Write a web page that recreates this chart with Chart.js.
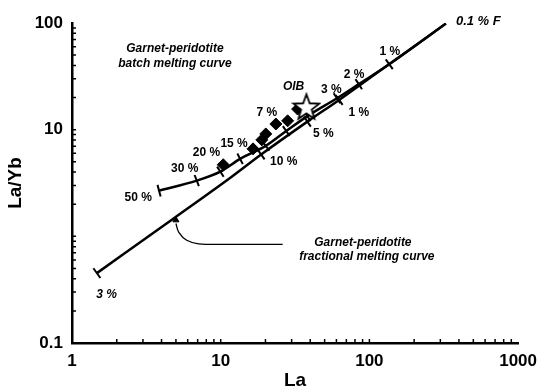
<!DOCTYPE html>
<html>
<head>
<meta charset="utf-8">
<script src="https://cdn.jsdelivr.net/npm/chart.js@4/dist/chart.umd.min.js"></script>
<style>
  body { margin: 0; background: #fff; }
  #wrap { width: 545px; height: 392px; }
</style>
</head>
<body>
<div id="wrap"><canvas id="meltChart" width="545" height="392"></canvas></div>
<script>
/************ DATA ************/
// garnet-peridotite batch melting curve, one point per F step (50 % ... 0.1 %)
const batchLa   = [3.85, 6.9, 9.95, 13.5, 20.1, 27.6, 38.3, 60.5, 84.8, 136, 327];
const batchLaYb = [2.68, 3.33, 4.04, 5.33, 7.05, 9.72, 13.4, 19.7, 26.7, 41, 98.7];

// garnet-peridotite fractional melting curve
const fracLa   = [1.47, 4.85, 11.8, 18.7, 38.3, 62.6, 137, 327];
const fracLaYb = [0.452, 1.48, 3.6, 5.85, 11.9, 19.0, 41.5, 98.7];

// F marks on the fractional curve (10 %, 5 %, 1 %)
const fracTickLa   = [18.7, 38.3, 62.6];
const fracTickLaYb = [5.85, 11.9, 19.0];

// samples
const sampleLa   = [10.4, 16.5, 18.9, 20.1, 23.5, 28.2, 32.9];
const sampleLaYb = [4.69, 6.61, 8.02, 9.12, 11.3, 12.1, 15.6];

// average OIB
const oibLa = [37.7];
const oibLaYb = [16.3];

// leader from the fractional-curve caption to the curve
const arrowLa   = [5.0, 5.23, 5.91, 7.11, 11.25, 26.1];
const arrowLaYb = [1.32, 1.09, 0.918, 0.851, 0.842, 0.842];

// text labels [text, La, La/Yb]
const pctLabels = [
  ["50 %", 2.79, 2.31], ["30 %", 5.73, 4.3], ["20 %", 8.03, 6.07],
  ["15 %", 12.3, 7.36], ["7 %", 20.4, 14.3], ["3 %", 55.4, 23.9],
  ["2 %", 78.8, 33.0], ["1 %", 137, 54.1], ["10 %", 26.5, 5.0],
  ["5 %", 49.0, 9.12], ["1 %", 85.0, 14.3],
];
const italicLabels = [
  ["OIB", 30.9, 25.5], ["3 %", 1.71, 0.282],
  ["Garnet-peridotite", 4.92, 57.7], ["batch melting curve", 4.92, 41.8],
  ["Garnet-peridotite", 90.4, 0.879], ["fractional melting curve", 96.1, 0.651],
];
const endLabel = ["0.1 % F", 540, 103];

/************ HELPERS ************/
const FAMILY = '"Liberation Sans", Arial, sans-serif';
const pts = (xs, ys) => xs.map((x, i) => ({ x: x, y: ys[i] }));

// rotation (deg) that puts a "line" point across the curve
function perpRotation(curveX, curveY) {
  return (c) => {
    const v = c.raw;
    if (!v) return 0;
    const sx = c.chart.scales.x, sy = c.chart.scales.y;
    let i = 0;
    while (i < curveX.length - 2 && curveX[i + 1] <= v.x) i++;
    const dx = sx.getPixelForValue(curveX[i + 1]) - sx.getPixelForValue(curveX[i]);
    const dy = sy.getPixelForValue(curveY[i + 1]) - sy.getPixelForValue(curveY[i]);
    return (Math.atan2(dy, dx) * 180) / Math.PI + 90;
  };
}

// open five-point star for OIB
function makeStar() {
  const c = document.createElement("canvas");
  c.width = 30; c.height = 30;
  const g = c.getContext("2d");
  g.beginPath();
  for (let i = 0; i < 10; i++) {
    const r = i % 2 === 0 ? 13.5 : 5.6;
    const a = -Math.PI / 2 + (i * Math.PI) / 5;
    const px = 15 + r * Math.cos(a), py = 15.8 + r * Math.sin(a);
    i === 0 ? g.moveTo(px, py) : g.lineTo(px, py);
  }
  g.closePath();
  g.fillStyle = "#fff";
  g.fill();
  g.lineWidth = 1.8;
  g.strokeStyle = "#000";
  g.stroke();
  return c;
}

const powerLabel = (skipOne) => (v) => {
  const l = Math.log10(v);
  if (Math.abs(l - Math.round(l)) > 1e-9) return "";
  if (skipOne && Math.round(l) === 0) return "";
  return String(v);
};

/************ OVERLAY: inward axis ticks + text ************/
const overlay = {
  id: "overlay",
  afterDraw(chart) {
    const { ctx, chartArea: a, scales: { x, y } } = chart;
    ctx.save();
    ctx.strokeStyle = "#000";
    ctx.lineWidth = 1.5;
    ctx.beginPath();
    for (let e = 0; e < 3; e++) {
      for (let k = 1; k < 10; k++) {
        const px = x.getPixelForValue(k * Math.pow(10, e));
        ctx.moveTo(px, a.bottom);
        ctx.lineTo(px, a.bottom - 4);
      }
    }
    for (let e = -1; e < 2; e++) {
      for (let k = 1; k < 10; k++) {
        const py = y.getPixelForValue(k * Math.pow(10, e));
        ctx.moveTo(a.left, py);
        ctx.lineTo(a.left + 4, py);
      }
    }
    ctx.stroke();

    ctx.fillStyle = "#000";
    ctx.textAlign = "center";
    ctx.textBaseline = "middle";
    ctx.font = "bold 12px " + FAMILY;
    pctLabels.forEach(([t, lx, ly]) => {
      ctx.fillText(t, x.getPixelForValue(lx), y.getPixelForValue(ly));
    });
    ctx.font = "italic bold 12px " + FAMILY;
    italicLabels.forEach(([t, lx, ly]) => {
      ctx.fillText(t, x.getPixelForValue(lx), y.getPixelForValue(ly));
    });
    ctx.font = "italic bold 13px " + FAMILY;
    ctx.fillText(endLabel[0], x.getPixelForValue(endLabel[1]), y.getPixelForValue(endLabel[2]));
    ctx.restore();
  },
};

/************ CHART ************/
const tickFont = { family: FAMILY, size: 17, weight: "bold" };
const titleFont = { family: FAMILY, size: 19, weight: "bold" };

const meltCtx = document.getElementById("meltChart").getContext("2d");
const meltChart = new Chart(meltCtx, {
  type: "scatter",
  data: {
    datasets: [
      {
        type: "line",
        data: pts(fracLa, fracLaYb),
        borderColor: "#000",
        borderWidth: 2.5,
        pointRadius: 0,
        cubicInterpolationMode: "monotone",
        order: 5,
      },
      {
        type: "line",
        data: pts(batchLa, batchLaYb),
        borderColor: "#000",
        borderWidth: 2.5,
        pointRadius: 0,
        cubicInterpolationMode: "monotone",
        order: 4,
      },
      {
        type: "line",
        data: pts(arrowLa, arrowLaYb),
        borderColor: "#000",
        borderWidth: 1.3,
        pointRadius: 0,
        tension: 0.4,
        order: 3,
      },
      {
        // arrow head
        data: pts(arrowLa.slice(0, 1), [1.42]),
        pointStyle: "triangle",
        pointRadius: 3.5,
        backgroundColor: "#000",
        borderColor: "#000",
        borderWidth: 1,
        order: 2,
      },
      {
        // F marks on batch curve (all but the 0.1 % end)
        data: pts(batchLa.slice(0, -1), batchLaYb.slice(0, -1)),
        pointStyle: "line",
        pointRadius: 6,
        borderColor: "#000",
        borderWidth: 2,
        rotation: perpRotation(batchLa, batchLaYb),
        order: 2,
      },
      {
        // F marks on fractional curve + 3 % end bar
        data: pts([fracLa[0]].concat(fracTickLa), [fracLaYb[0]].concat(fracTickLaYb)),
        pointStyle: "line",
        pointRadius: 6,
        borderColor: "#000",
        borderWidth: 2,
        rotation: perpRotation(fracLa, fracLaYb),
        order: 2,
      },
      {
        data: pts(sampleLa, sampleLaYb),
        pointStyle: "rectRot",
        pointRadius: 6,
        backgroundColor: "#000",
        borderColor: "#000",
        borderWidth: 1,
        order: 1,
      },
      {
        data: pts(oibLa, oibLaYb),
        pointStyle: makeStar(),
        order: 0,
      },
    ],
  },
  options: {
    responsive: false,
    animation: false,
    events: [],
    layout: { padding: { top: 23, right: 22, left: 0, bottom: 0 } },
    plugins: { legend: { display: false }, tooltip: { enabled: false } },
    scales: {
      x: {
        type: "logarithmic",
        min: 1,
        max: 1000,
        grid: { display: false, drawTicks: false },
        border: { display: true, color: "#000", width: 2.5 },
        ticks: {
          autoSkip: false,
          maxRotation: 0,
          padding: 8,
          color: "#000",
          font: tickFont,
          callback: powerLabel(false),
        },
        title: { display: true, text: "La", color: "#000", font: titleFont, padding: 0 },
        afterFit: (s) => { s.height = 49; },
      },
      y: {
        type: "logarithmic",
        min: 0.1,
        max: 100,
        grid: { display: false, drawTicks: false },
        border: { display: true, color: "#000", width: 2.5 },
        ticks: {
          autoSkip: false,
          padding: 9,
          color: "#000",
          font: tickFont,
          callback: powerLabel(true),
        },
        title: { display: true, text: "La/Yb", color: "#000", font: titleFont, padding: { top: 4, bottom: 0 } },
        afterFit: (s) => { s.width = 72; },
      },
    },
  },
  plugins: [overlay],
});
</script>
</body>
</html>
